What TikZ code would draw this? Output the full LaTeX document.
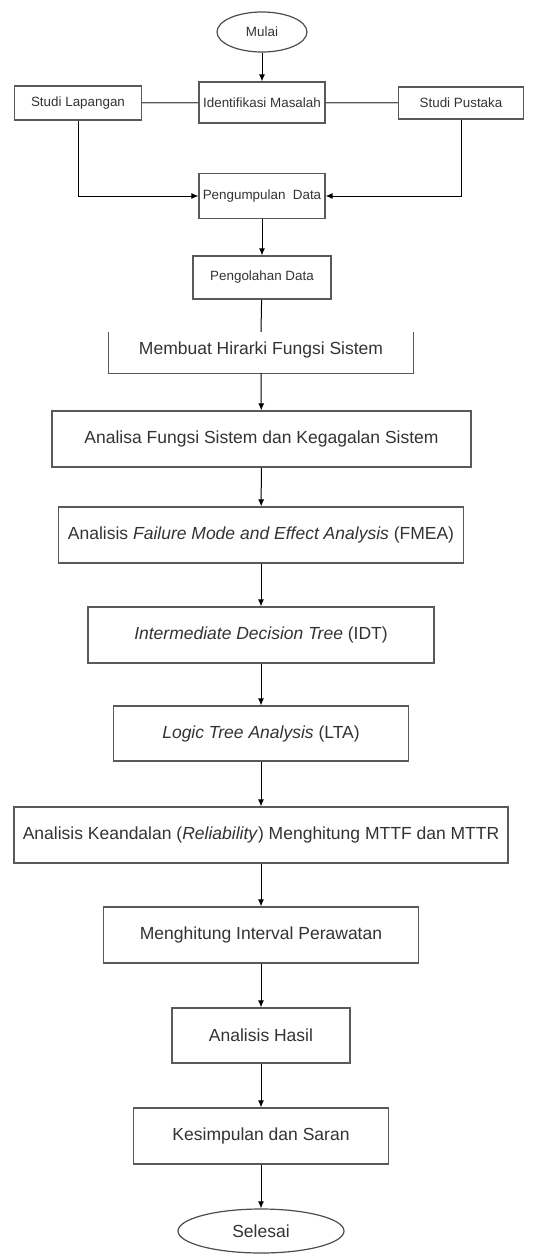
\documentclass[tikz,border=0pt]{standalone}
\usepackage{fontspec}
\setmainfont{Liberation Sans}
\usetikzlibrary{shapes.geometric,arrows.meta}

\begin{document}
\begin{tikzpicture}[x=1pt, y=-1pt,
  every node/.style={text=black!80},
  small/.style={font=\fontsize{13.4}{16}\selectfont},
  big/.style={font=\fontsize{17.5}{21}\selectfont},
  box/.style={draw=black!65, line width=1.2pt, rectangle, inner sep=0pt},
  oval/.style={draw=black!70, line width=1.2pt, ellipse, inner sep=0pt},
  flow/.style={-{Latex[length=7pt,width=6pt]}, line width=1pt},
  link/.style={draw=black!65, line width=1.2pt}]
  \useasboundingbox (0,0) rectangle (552,1256);
  % tahap awal
  \node[oval, small, minimum width=90pt, minimum height=40pt] (mulai) at (262,32) {Mulai};
  \node[box, small, minimum width=126pt, minimum height=41pt] (identifikasi) at (262,102.5) {Identifikasi Masalah};
  \node[box, small, minimum width=127pt, minimum height=34pt] (lapangan) at (78,103) {Studi Lapangan};
  \node[box, small, minimum width=125pt, minimum height=32pt] (pustaka) at (461,103) {Studi Pustaka};
  \node[box, small, minimum width=126pt, minimum height=45pt] (kumpul) at (262,196) {Pengumpulan\ \ Data};
  \node[box, small, minimum width=138pt, minimum height=43pt] (olah) at (262,277.5) {Pengolahan Data};
  % tahap analisis
  \node[big, inner sep=0pt, minimum width=304pt, minimum height=41pt] (hirarki) at (261,352.5) {\raisebox{8pt}{Membuat Hirarki Fungsi Sistem}};
  \node[box, big, minimum width=419pt, minimum height=56pt] (fungsi) at (261.5,439) {Analisa Fungsi Sistem dan Kegagalan Sistem};
  \node[box, big, minimum width=405pt, minimum height=56pt] (fmea) at (261,535) {Analisis \textit{Failure Mode and Effect Analysis} (FMEA)};
  \node[box, big, minimum width=346pt, minimum height=56pt] (idt) at (261,635) {\textit{Intermediate Decision Tree} (IDT)};
  \node[box, big, minimum width=295pt, minimum height=55pt] (lta) at (261,733.5) {\textit{Logic Tree Analysis} (LTA)};
  \node[box, big, minimum width=494pt, minimum height=56pt] (andal) at (261,835) {Analisis Keandalan (\textit{Reliability}) Menghitung MTTF dan MTTR};
  \node[box, big, minimum width=315pt, minimum height=56pt] (interval) at (261,935) {Menghitung Interval Perawatan};
  \node[box, big, minimum width=178pt, minimum height=55pt] (hasil) at (261,1035.5) {Analisis Hasil};
  \node[box, big, minimum width=255pt, minimum height=56pt] (simpul) at (261,1136) {Kesimpulan dan Saran};
  \node[oval, big, minimum width=166pt, minimum height=44pt] (selesai) at (261,1231) {Selesai};
  % kotak hirarki tanpa sisi atas
  \draw[link] (hirarki.north west) -- (hirarki.south west) -- (hirarki.south east) -- (hirarki.north east);
  % penghubung
  \draw[flow] (mulai) -- (identifikasi);
  \draw[link] (lapangan) -- (identifikasi);
  \draw[link] (identifikasi) -- (pustaka);
  \draw[flow] (lapangan.south) |- (kumpul.west);
  \draw[flow] (pustaka.south) |- (kumpul.east);
  \draw[flow] (kumpul) -- (olah);
  \draw[line width=1pt] (olah) -- (hirarki.north);
  \draw[flow] (hirarki.south) -- (fungsi);
  \draw[flow] (fungsi) -- (fmea);
  \draw[flow] (fmea) -- (idt);
  \draw[flow] (idt) -- (lta);
  \draw[flow] (lta) -- (andal);
  \draw[flow] (andal) -- (interval);
  \draw[flow] (interval) -- (hasil);
  \draw[flow] (hasil) -- (simpul);
  \draw[flow] (simpul) -- (selesai);
\end{tikzpicture}
\end{document}
